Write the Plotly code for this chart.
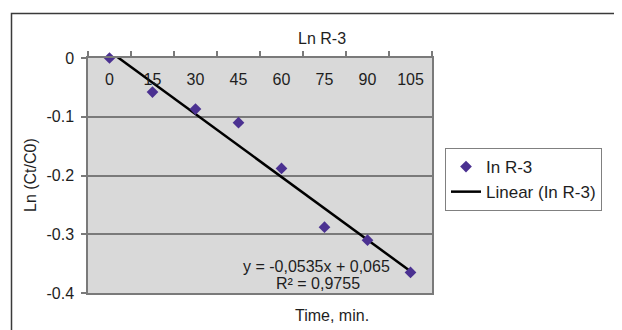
import plotly.graph_objects as go

# ---- data ----
time_min = [0, 15, 30, 45, 60, 75, 90, 105]
ln_ratio = [0.0, -0.058, -0.087, -0.110, -0.188, -0.288, -0.310, -0.365]
trend_slope = [-0.0535]
trend_intercept = [0.065]
y_tickvals = [0, -0.1, -0.2, -0.3, -0.4]
y_ticktext = ["0", "-0.1", "-0.2", "-0.3", "-0.4"]
x_ticktext = ["0", "15", "30", "45", "60", "75", "90", "105"]

W, H = 622, 330
OFF = 8  # page body margin
FONT = "Liberation Sans, Arial, sans-serif"
TXT = "#1e1e1e"
GRID = "#7a7a7a"
FS = 16

# trendline from Excel fit (x = category index 1..n)
trend_y = [trend_slope[0] * (i + 1) + trend_intercept[0] for i in range(len(time_min))]

fig = go.Figure()
fig.add_trace(go.Scatter(
    x=time_min, y=trend_y, mode="lines", name="Linear (In R-3)",
    line=dict(color="#000000", width=2.5),
))
fig.add_trace(go.Scatter(
    x=time_min, y=ln_ratio, mode="markers", name="In R-3",
    marker=dict(symbol="diamond", size=9, color="#4B3191"),
    cliponaxis=False,
))
# carrier for the category label axis (invisible)
fig.add_trace(go.Scatter(
    x=time_min, y=ln_ratio, xaxis="x2", mode="markers",
    marker=dict(opacity=0), showlegend=False, hoverinfo="skip",
))

def px_x(p):
    return (p - OFF) / W

def px_y(p):
    return 1 - (p - OFF) / H

def note(text, x, y, **kw):
    return dict(text=text, x=px_x(x), y=px_y(y), xref="paper", yref="paper",
                xanchor="center", yanchor="middle", showarrow=False,
                font=dict(size=FS, color=TXT), **kw)

fig.update_layout(
    width=W, height=H,
    margin=dict(l=0, r=0, t=0, b=0, autoexpand=False),
    paper_bgcolor="white",
    plot_bgcolor="#d9d9d9",
    font=dict(family=FONT, size=FS, color=TXT),
    showlegend=True,
    legend=dict(
        x=px_x(445), y=px_y(148), xanchor="left", yanchor="top",
        bordercolor="#808080", borderwidth=1, bgcolor="white",
        font=dict(size=17, color=TXT),
        traceorder="reversed",
        itemwidth=30,
        tracegroupgap=0,
    ),
    xaxis=dict(
        domain=[px_x(88), px_x(432)],
        range=[-7.5, 112.5],
        side="top",
        tickmode="array", tickvals=time_min,
        showticklabels=False,
        ticks="",
        showgrid=False, zeroline=False, automargin=False,
        showline=True, linecolor=GRID, linewidth=1.5, mirror=True,
        minor=dict(tick0=-7.5, dtick=15, ticks="outside", ticklen=5,
                   tickcolor=GRID, tickwidth=1.5, showgrid=False),
    ),
    xaxis2=dict(
        overlaying="x", matches="x", anchor="free", side="bottom",
        position=px_y(68),
        domain=[px_x(88), px_x(432)],
        range=[-7.5, 112.5],
        tickmode="array", tickvals=time_min, ticktext=x_ticktext,
        ticks="", showline=False, showgrid=False, zeroline=False,
        automargin=False,
        tickfont=dict(size=FS, color=TXT),
    ),
    yaxis=dict(
        domain=[px_y(293), px_y(58)],
        range=[-0.4, 0],
        tickmode="array", tickvals=y_tickvals, ticktext=y_ticktext,
        ticks="outside", ticklen=5, tickcolor=GRID, tickwidth=1.5,
        ticklabelstandoff=4,
        showgrid=True, gridcolor=GRID, gridwidth=1.5,
        zeroline=False, automargin=False,
        showline=True, linecolor=GRID, linewidth=1.5, mirror=True,
        tickfont=dict(size=FS, color=TXT),
    ),
    annotations=[
        note("Ln R-3", 322, 38),
        note("Time, min.", 332, 315),
        note("Ln (Ct/C0)", 30, 175, textangle=-90),
        note("y = -0,0535x + 0,065", 316, 266),
        note("R² = 0,9755", 318, 283),
    ],
    shapes=[
        dict(type="rect", xref="paper", yref="paper",
             x0=px_x(11.5), x1=px_x(640), y0=px_y(345), y1=px_y(13.5),
             line=dict(color="#3a3a3a", width=1.5), layer="below"),
    ],
)

fig.write_html("out.html")
